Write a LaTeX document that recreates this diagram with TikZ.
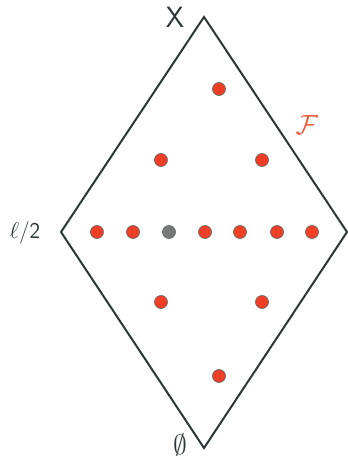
\documentclass[tikz,border=0pt]{standalone}
\usetikzlibrary{positioning}
\definecolor{EdgeGray}{RGB}{45,55,55}
\definecolor{DotRed}{RGB}{240,62,36}
\definecolor{DotGray}{RGB}{120,120,120}
\definecolor{FamOrange}{RGB}{245,85,55}
\tikzset{
  side/.style={line width=1.5pt,draw=EdgeGray,line join=miter},
  member/.style={circle,draw=EdgeGray!70,line width=0.5pt,fill=DotRed,
    inner sep=0pt,minimum size=9.8pt},
  pivot/.style={member,fill=DotGray},
  lbl/.style={font=\fontsize{17}{20}\selectfont\sffamily,text=EdgeGray,inner sep=0pt},
  biglbl/.style={lbl,font=\fontsize{22}{26}\selectfont\sffamily}
}

\begin{document}
\begin{tikzpicture}[x=0.75pt,y=-0.75pt]
  \useasboundingbox (0,0) rectangle (348,460);
  % vertices of the lattice
  \coordinate (top) at (204,17);
  \coordinate (left) at (61,232);
  \coordinate (right) at (347,232);
  \coordinate (bot) at (204,448);
  \draw[side] (top) -- (right) -- (bot) -- (left) -- cycle;
  % labels
  \node[biglbl] (xl) at (175,17) {X};
  \node[lbl] (half) at (25,233) {$\ell$/2};
  \node[biglbl] (empty) at (180,445) {$\emptyset$};
  \node[biglbl,text=FamOrange] (fam) at (307,125) {$\mathcal{F}$};
  % members of the family
  \node[member] (m1) at (219,89) {};
  \node[member] (m2) at (161,160) {};
  \node[member] (m3) at (262,160) {};
  \foreach \x/\n in {97/r1,133/r2,205/r4,240/r5,277/r6,312/r7}
    \node[member] (\n) at (\x,232) {};
  \node[pivot] (r3) at (169,232) {};
  \node[member] (m4) at (161,302) {};
  \node[member] (m5) at (262,302) {};
  \node[member] (m6) at (219,376) {};
\end{tikzpicture}
\end{document}
